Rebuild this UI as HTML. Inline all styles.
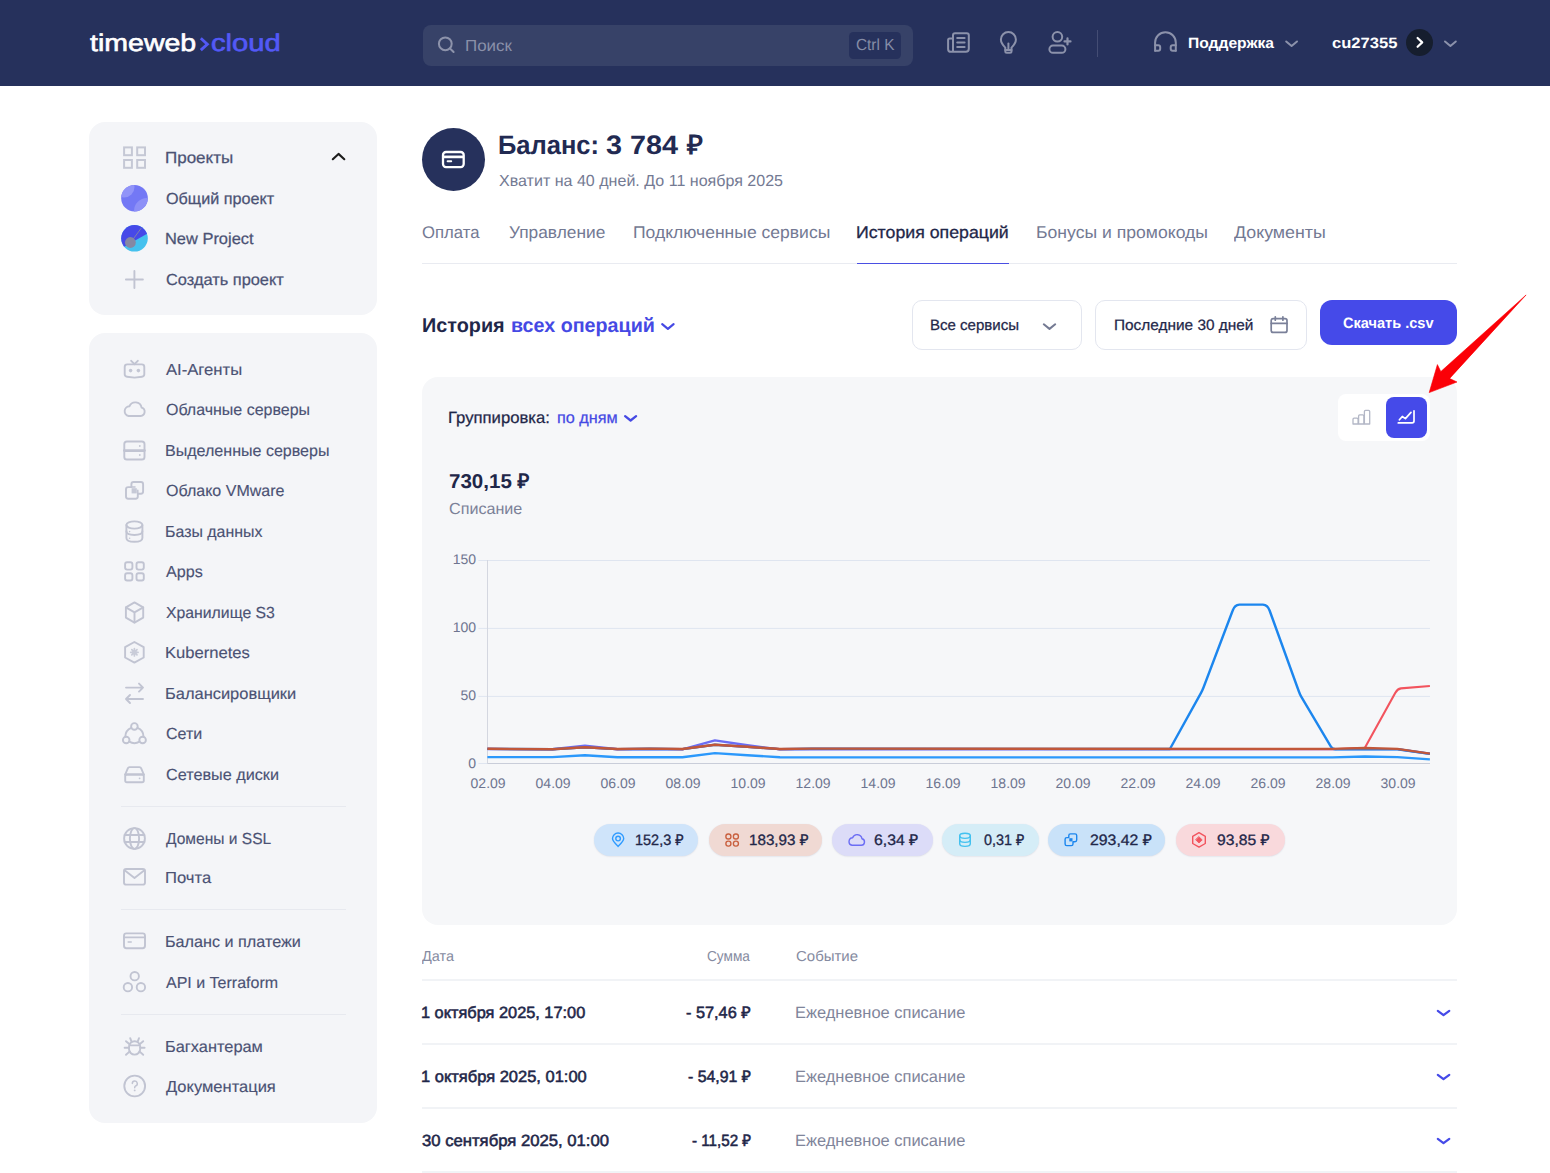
<!DOCTYPE html>
<html lang="ru"><head><meta charset="utf-8"><title>Timeweb Cloud</title>
<style>
*{box-sizing:border-box;margin:0;padding:0}
html,body{width:1550px;height:1173px;overflow:hidden;background:#fff;font-family:"Liberation Sans",sans-serif;}
body{position:relative}
.t{position:absolute;white-space:nowrap;line-height:1;font-family:"Liberation Sans",sans-serif;text-rendering:geometricPrecision;}
.a{position:absolute}
svg{position:absolute;overflow:visible}
.hdr{left:0;top:0;width:1550px;height:85.8px;background:#26315c}
.search{left:423px;top:24.7px;width:490px;height:41.5px;border-radius:8px;background:#374268}
.kbd{left:849px;top:31.8px;width:52px;height:27px;border-radius:4.5px;background:#26315c}
.vdiv{left:1097px;top:29.5px;width:1px;height:27px;background:#444d74}
.ucirc{left:1406px;top:29px;width:27px;height:27px;border-radius:50%;background:#161e2e}
.card{background:#f4f5f8;border-radius:16px}
.bal{left:422px;top:128px;width:63.2px;height:63.2px;border-radius:50%;background:#26315c}
.hl{height:1px;background:#e9ebf1}
.sel{border:1px solid #e3e6ef;border-radius:10px;background:#fff;height:50px;top:300px}
.btn{left:1320px;top:300px;width:137px;height:45px;border-radius:12px;background:#454ae9}
.chart{left:422px;top:377px;width:1035px;height:548px;background:#f6f7f9;border-radius:16px}
.tog{left:1338px;top:394px;width:92px;height:47px;border-radius:8px;background:#fff}
.togA{left:1386px;top:397px;width:41px;height:41px;border-radius:8px;background:#454ae9}
.chip{top:823.5px;height:32.5px;border-radius:17px;box-shadow:0 0.5px 1.5px rgba(40,50,90,0.13)}
.sd{left:121px;width:225px;height:1px;background:#e7e9ef}

</style></head>
<body>
<!-- header -->
<div class="a hdr"></div>
<div class="a search"></div>
<div class="a kbd"></div>
<div class="a vdiv"></div>
<div class="a ucirc"></div>
<!-- sidebar cards -->
<div class="a card" style="left:89px;top:122px;width:288px;height:192.5px"></div>
<div class="a card" style="left:89px;top:333px;width:288px;height:789.5px"></div>
<div class="a sd" style="top:806px"></div>
<div class="a sd" style="top:908.5px"></div>
<div class="a sd" style="top:1013.5px"></div>
<!-- balance -->
<div class="a bal"></div>
<div class="a hl" style="left:422px;top:263px;width:1035px"></div>
<div class="a" style="left:857px;top:262.5px;width:151.5px;height:1.5px;background:#4a4fe3"></div>
<!-- filters -->
<div class="a sel" style="left:912px;width:170px"></div>
<div class="a sel" style="left:1095px;width:212px"></div>
<div class="a btn"></div>
<!-- chart card -->
<div class="a chart"></div>
<div class="a tog"></div>
<div class="a togA"></div>
<!-- chips -->
<div class="a chip" style="left:594.3px;width:104.2px;background:#cfe4fa"></div>
<div class="a chip" style="left:708.8px;width:113.5px;background:#f0d9d3"></div>
<div class="a chip" style="left:832.3px;width:100.3px;background:#dcdcf8"></div>
<div class="a chip" style="left:942.4px;width:96.4px;background:#d5edf7"></div>
<div class="a chip" style="left:1048.4px;width:117px;background:#c9e2f9"></div>
<div class="a chip" style="left:1175.5px;width:109px;background:#f9d9dc"></div>
<!-- table lines -->
<div class="a hl" style="left:422px;top:978.9px;width:1035px;height:2px;background:#f1f3f6"></div>
<div class="a hl" style="left:422px;top:1042.9px;width:1035px;height:2px;background:#f1f3f6"></div>
<div class="a hl" style="left:422px;top:1106.9px;width:1035px;height:2px;background:#f1f3f6"></div>
<div class="a hl" style="left:422px;top:1170.9px;width:1035px;height:2px;background:#f1f3f6"></div>
<!-- CHART START -->
<svg width="1550" height="1173" viewBox="0 0 1550 1173" style="left:0;top:0" fill="none" stroke-linejoin="round" stroke-linecap="butt">
<path d="M478.4,560.5 H1430" stroke="#dfe5f0" stroke-width="1"/>
<path d="M478.4,628.4 H1430" stroke="#dfe5f0" stroke-width="1"/>
<path d="M478.4,696.4 H1430" stroke="#dfe5f0" stroke-width="1"/>
<path d="M478.4,763.5 H487.4" stroke="#dfe5f0" stroke-width="1"/>
<path d="M487.5,560 V763.5" stroke="#d4d7e0" stroke-width="1"/>
<path d="M487.4,763.5 H1430" stroke="#c9cdd9" stroke-width="1.2"/>
<path d="M487.4,757.1 L552.4,757.1 L584.9,755.3 L617.4,757.2 L682.4,757.2 L714.9,753.1 L747.4,755.2 L779.9,757.3 L1332.4,757.4 L1364.9,756.5 L1397.4,757.1 L1429.9,759.4" stroke="#2b98fb" stroke-width="2.4"/>
<path d="M487.4,749.0 L552.4,749.3 L584.9,745.7 L617.4,749.3 L682.4,749.3 L714.9,740.4 L747.4,745.2 L779.9,749.4 L1397.4,749.1 L1429.9,753.8" stroke="#6b6df4" stroke-width="2.4"/>
<path d="M487.4,748.9 L552.4,749.3 L584.9,747.4 L617.4,749.1 L649.9,748.7 L682.4,749.1 L714.9,744.8 L747.4,746.9 L779.9,749.1 L812.4,748.7 L1332.4,749.3 L1364.9,747.8 L1395.2,693.0 Q1397.4,689.0 1400.9,688.4 L1429.9,686.0" stroke="#f2545e" stroke-width="2.1"/>
<path d="M487.4,748.9 L552.4,749.3 L584.9,747.4 L617.4,749.1 L649.9,748.7 L682.4,749.1 L714.9,744.8 L747.4,746.9 L779.9,749.1 L812.4,748.7 L1169.9,749.0 L1200.9,693.2 Q1202.4,690.4 1203.6,687.3 L1232.7,610.5 Q1234.6,604.9 1239.4,604.6 L1262.9,604.6 Q1267.7,604.9 1269.6,610.5 L1298.7,691.0 Q1299.9,694.4 1301.5,697.2 L1330.9,746.6 Q1332.4,749.0 1335.4,749.3 L1397.4,749.2 L1429.9,753.9" stroke="#1c86ee" stroke-width="2.4"/>
<path d="M487.4,748.8 L552.4,749.2 L584.9,747.3 L617.4,749.0 L649.9,748.6 L682.4,749.0 L714.9,744.7 L747.4,746.8 L779.9,749.0 L812.4,748.6 L1332.4,748.9 L1364.9,748.0 L1397.4,748.9 L1429.9,753.6" stroke="#c1573a" stroke-width="2.4"/>
</svg>
<!-- CHART END -->
<!-- SIDEICONS START -->
<svg width="400" height="1173" viewBox="0 0 400 1173" style="left:0;top:0" fill="none" stroke="#c1c4d2" stroke-width="1.9" stroke-linecap="round" stroke-linejoin="round">
<!-- projects grid -->
<g stroke-width="2" stroke-linejoin="miter" stroke="#c5c8d5">
<rect x="124.1" y="147.4" width="7.8" height="7.8"/><rect x="137.2" y="147.4" width="7.8" height="7.8"/>
<rect x="124.1" y="160.0" width="7.8" height="7.8"/><rect x="137.2" y="160.0" width="7.8" height="7.8"/>
</g>
<path d="M332.8,159.2 L338.5,153.9 L344.3,159.2" stroke="#1c1c1c" stroke-width="2.1"/>
<!-- avatar 1 -->
<clipPath id="av1"><circle cx="134.5" cy="198.2" r="13.3"/></clipPath>
<g clip-path="url(#av1)" stroke="none">
<rect x="120" y="184" width="30" height="30" fill="#7378f5"/>
<circle cx="124" cy="187" r="10.5" fill="#9194f8"/>
<circle cx="147" cy="211" r="13" fill="#8d90f7"/>
</g>
<!-- avatar 2 -->
<clipPath id="av2"><circle cx="134.5" cy="238.3" r="13.3"/></clipPath>
<g clip-path="url(#av2)" stroke="none">
<rect x="120" y="224" width="30" height="30" fill="#45c1ee"/>
<path d="M120,224 H150 V232 L120,249 Z" fill="#4649e8"/>
<path d="M131,242 L141,228.5" stroke="#8588a3" stroke-width="0.9"/>
<circle cx="130.4" cy="242.5" r="5.4" fill="#8588a3"/>
</g>
<!-- plus -->
<path d="M125.9,279.5 H142.9 M134.4,271 V288" stroke-width="1.9"/>
<!-- AI agents -->
<path d="M127.2,364.4 H141.8 Q144.3,364.4 144.3,366.9 V374.3 Q144.3,376.5 142,376.7 L134.5,377.6 L127,376.7 Q124.7,376.5 124.7,374.3 V366.9 Q124.7,364.4 127.2,364.4 Z"/>
<path d="M131.2,360.8 L134.5,364.2 L137.8,360.8"/>
<circle cx="130.6" cy="370.6" r="1.8" fill="#c3c6d4" stroke="none"/><circle cx="138.4" cy="370.6" r="1.8" fill="#c3c6d4" stroke="none"/>
<!-- cloud -->
<path d="M128.6,416 H140.6 A4.3,4.3 0 0 0 141.6,407.6 A6.4,6.4 0 0 0 129.4,406.3 A4.9,4.9 0 0 0 128.6,416 Z"/>
<!-- server -->
<rect x="124.3" y="441.5" width="20.2" height="18" rx="2.6"/>
<path d="M124.3,450.6 H144.5" stroke-width="2.6"/>
<circle cx="139.8" cy="446" r="0.9" fill="#c3c6d4" stroke="none"/><circle cx="139.8" cy="455" r="0.9" fill="#c3c6d4" stroke="none"/>
<!-- vmware -->
<path d="M131.4,487.1 V484.2 Q131.4,482 133.6,482 H140.9 Q143.1,482 143.1,484.2 V491.5 Q143.1,493.7 140.9,493.7 H137.8 V496.6 Q137.8,498.8 135.6,498.8 H128.2 Q126,498.8 126,496.6 V489.3 Q126,487.1 128.2,487.1 Z"/>
<path d="M131.4,487.1 H135 M137.8,493.7 V490.2" stroke-width="1.5"/>
<rect x="131.6" y="488.2" width="5.2" height="5.2" fill="#c6c9d6" stroke="none"/>
<!-- database -->
<ellipse cx="134.4" cy="525" rx="8" ry="3.6"/>
<path d="M126.4,525 V538 C126.4,543.1 142.4,543.1 142.4,538 V525"/>
<path d="M126.4,531.3 C126.4,536.2 142.4,536.2 142.4,531.3"/>
<circle cx="129.6" cy="531.6" r="0.8" fill="#c3c6d4" stroke="none"/><circle cx="129.6" cy="538.2" r="0.8" fill="#c3c6d4" stroke="none"/>
<!-- apps -->
<rect x="125.1" y="562.3" width="7.3" height="7.3" rx="2"/><rect x="136.5" y="562.3" width="7.3" height="7.3" rx="2"/>
<rect x="125.1" y="573.2" width="7.3" height="7.3" rx="2"/><rect x="136.5" y="573.2" width="7.3" height="7.3" rx="2"/>
<!-- cube -->
<path d="M134.5,602.4 L143.2,607.4 V617.6 L134.5,622.6 L125.9,617.6 V607.4 Z"/>
<path d="M125.9,607.4 L134.5,612.4 L143.2,607.4 M134.5,612.4 V622.6"/>
<!-- kubernetes -->
<path d="M134.4,642 L143.7,647.2 V657.5 L134.4,662.6 L125.1,657.5 V647.2 Z"/>
<g stroke="#c9ccd8" stroke-width="1.7"><path d="M134.4,648.6 V656 M130.7,652.3 H138.1 M131.8,649.7 L137,654.9 M137,649.7 L131.8,654.9"/></g>
<circle cx="134.4" cy="652.3" r="2.2" fill="#c9ccd8" stroke="none"/>
<!-- balancers -->
<path d="M126,687.6 H143 M139,683.6 L143,687.6 L139,691.6"/>
<path d="M143,699 H126 M130,695 L126,699 L130,703"/>
<!-- networks -->
<circle cx="134.4" cy="726.4" r="3.3"/><circle cx="126.2" cy="740" r="3.3"/><circle cx="142.6" cy="740" r="3.3"/>
<path d="M131.3,727.9 A9.6,9.6 0 0 0 125.3,736.6"/>
<path d="M137.5,727.9 A9.6,9.6 0 0 1 143.5,736.6"/>
<path d="M129.3,741.6 A9.6,9.6 0 0 0 139.5,741.6"/>
<!-- disk -->
<path d="M125.2,774.5 L127.8,768.3 Q128.3,767.1 129.6,767.1 H139.4 Q140.7,767.1 141.2,768.3 L143.8,774.5"/>
<rect x="125.2" y="774.5" width="18.6" height="7.8" rx="1.8"/>
<path d="M125.2,774.5 H143.8"/>
<circle cx="139.6" cy="778.3" r="0.9" fill="#c3c6d4" stroke="none"/>
<!-- globe -->
<circle cx="134.5" cy="838.5" r="10.4"/>
<ellipse cx="134.5" cy="838.5" rx="4.6" ry="10.4"/>
<path d="M124.6,835 H144.4 M124.6,842 H144.4"/>
<!-- mail -->
<rect x="124" y="869" width="21" height="15.6" rx="2.2"/>
<path d="M124.6,870.3 L134.5,878 L144.4,870.3"/>
<!-- card -->
<rect x="124" y="933.4" width="21" height="14.8" rx="2.4"/>
<path d="M124,937.4 H145" stroke-width="1.8"/>
<path d="M128.2,942 H131.2" stroke-width="1.6"/>
<!-- api -->
<circle cx="134.7" cy="976.2" r="4.2"/><circle cx="127.9" cy="987.2" r="4.2"/><circle cx="140.9" cy="987.2" r="4.2"/>
<!-- bug -->
<path d="M129,1046.8 A5.6,5.6 0 0 1 140.2,1046.8 V1049 A5.6,5.6 0 0 1 129,1049 Z"/>
<path d="M129.6,1045.4 H139.6"/>
<path d="M131.6,1041.8 L130.2,1038.2 M137.6,1041.8 L139,1038.2"/>
<path d="M129,1047.8 H124.6 M140.2,1047.8 H144.6"/>
<path d="M129.6,1044.2 L126,1041.2 M139.6,1044.2 L143.2,1041.2"/>
<path d="M129.8,1051.4 L126,1054.8 M139.4,1051.4 L143.2,1054.8"/>
<!-- help -->
<circle cx="134.7" cy="1086" r="10.4"/>
<path d="M132.3,1083.4 A2.5,2.5 0 1 1 135.6,1085.9 Q134.7,1086.4 134.7,1087.8" stroke-width="1.5"/>
<circle cx="134.7" cy="1090.4" r="0.95" fill="#c3c6d4" stroke="none"/>
</svg>
<!-- SIDEICONS END -->
<!-- MAINICONS START -->
<svg width="1550" height="1173" viewBox="0 0 1550 1173" style="left:0;top:0" fill="none" stroke-linecap="round" stroke-linejoin="round">
<!-- ===== header ===== -->
<g stroke="#8c92ab" stroke-width="2">
<!-- logo chevron -->
<path d="M200.8,38.3 L207.3,44.2 L200.8,50.1" stroke="#5258f5" stroke-width="2.9" stroke-linecap="butt" stroke-linejoin="miter"/>
<!-- search -->
<circle cx="445.3" cy="43.8" r="6.4" stroke="#8d93ab" stroke-width="2"/>
<path d="M450,48.5 L453.6,52" stroke="#8d93ab" stroke-width="2"/>
<!-- newspaper -->
<path d="M953,51.8 V35.2 Q953,33.2 955,33.2 H966.8 Q968.8,33.2 968.8,35.2 V48.8 Q968.8,51.8 965.8,51.8 H951 Q948.1,51.8 948.1,48.9 V40 Q948.1,38.4 949.7,38.4 H953"/>
<path d="M957.2,37.9 H964.6 M957.2,42.4 H964.6 M957.2,46.9 H964.6"/>
<!-- bulb -->
<path d="M1005.3,50 V47.6 C1003.6,45.9 1000.9,43.4 1000.9,39.6 A7.5,7.5 0 0 1 1015.9,39.6 C1015.9,43.4 1013.2,45.9 1011.5,47.6 V50 Z"/>
<path d="M1005.3,50 V51.3 Q1005.3,52.8 1006.8,52.8 H1010 Q1011.5,52.8 1011.5,51.3 V50"/>
<path d="M1008.4,43.4 V50"/>
<!-- user plus -->
<circle cx="1057.4" cy="36.8" r="4.8"/>
<rect x="1049.4" y="45.6" width="16" height="7.2" rx="3.6"/>
<path d="M1067.5,38.4 V44.4 M1064.5,41.4 H1070.5" stroke-width="2.2"/>
<!-- headphones -->
<path d="M1155.1,50.7 V42.6 A10.35,10.35 0 0 1 1175.8,42.6 V50.7"/>
<path d="M1155.1,45.2 H1158.2 Q1160.2,45.2 1160.2,47.2 V48.7 Q1160.2,50.7 1158.2,50.7 H1155.1"/>
<path d="M1175.8,45.2 H1172.7 Q1170.7,45.2 1170.7,47.2 V48.7 Q1170.7,50.7 1172.7,50.7 H1175.8"/>
<!-- chevrons -->
<path d="M1286.2,41.5 L1291.6,46 L1297,41.5"/>
<path d="M1445,41.5 L1450.4,46 L1455.8,41.5"/>
</g>
<path d="M1417.6,38 L1422.2,42.4 L1417.6,46.8" stroke="#fff" stroke-width="2.2"/>
<!-- ===== balance card icon ===== -->
<rect x="443" y="152" width="20.7" height="15.1" rx="3" stroke="#fff" stroke-width="2.3"/>
<path d="M443,156.9 H463.7" stroke="#fff" stroke-width="2.7" stroke-linecap="butt"/>
<path d="M447.6,161.2 H451.2" stroke="#fff" stroke-width="2"/>
<!-- ===== filter row ===== -->
<path d="M662.2,324.2 L667.9,328.8 L673.6,324.2" stroke="#4549e4" stroke-width="2.2"/>
<path d="M1043.8,324.3 L1049.5,328.9 L1055.2,324.3" stroke="#747a93" stroke-width="2"/>
<g stroke="#7a8099" stroke-width="1.7">
<rect x="1271.2" y="318.6" width="15.8" height="13.8" rx="2"/>
<path d="M1271.2,323.4 H1287 M1275.3,316.8 V320.2 M1282.9,316.8 V320.2"/>
</g>
<!-- ===== chart card ===== -->
<path d="M625.1,416.2 L630.6,420.5 L636.1,416.2" stroke="#4549e4" stroke-width="2.3"/>
<g stroke="#b3b7c6" stroke-width="1.3" stroke-linejoin="round">
<path d="M1353,424 V419.3 Q1353,418.2 1354.1,418.2 H1357 Q1358.1,418.2 1358.1,419.3 V424 Z"/>
<path d="M1358.6,424 V416 Q1358.6,414.9 1359.7,414.9 H1362.8 Q1363.9,414.9 1363.9,416 V424 Z"/>
<path d="M1364.4,424 V411.4 Q1364.4,410.3 1365.5,410.3 H1368.6 Q1369.7,410.3 1369.7,411.4 V424 Z"/>
</g>
<g stroke="#fff" stroke-width="1.7">
<path d="M1414,410.8 V421 Q1414,422.9 1412.1,422.9 H1398.3"/>
<path d="M1399.4,419.8 L1402.3,416.5 L1405.4,418.6 L1411,412.4"/>
</g>
<!-- red arrow -->
<path d="M1525.8,295.2 L1440.8,371.6 L1437.4,364.6 L1429.2,392.6 L1457,382 L1449.8,378.6 Z" fill="#fb0007" stroke="#fb0007" stroke-width="0.6" stroke-linejoin="miter"/>
<!-- ===== chips icons ===== -->
<!-- pin -->
<g stroke="#2f9bff" stroke-width="1.4">
<path d="M618.1,846.4 C615.2,843.6 612.5,841.2 612.5,838.6 A5.6,5.6 0 0 1 623.7,838.6 C623.7,841.2 621,843.6 618.1,846.4 Z"/>
<circle cx="618.1" cy="838.6" r="2.3"/>
</g>
<!-- apps -->
<g stroke="#c9603f" stroke-width="1.4">
<rect x="725.9" y="834" width="5" height="5" rx="2.3"/><rect x="733.4" y="834" width="5" height="5" rx="2.3"/>
<rect x="725.9" y="841.1" width="5" height="5" rx="2.3"/><rect x="733.4" y="841.1" width="5" height="5" rx="2.3"/>
</g>
<!-- cloud -->
<path d="M852,845.3 H861.2 A3.3,3.3 0 0 0 862,838.8 A4.9,4.9 0 0 0 852.6,837.8 A3.8,3.8 0 0 0 852,845.3 Z" stroke="#6b6df4" stroke-width="1.4"/>
<!-- db -->
<g stroke="#43c1ef" stroke-width="1.4">
<ellipse cx="965" cy="835.8" rx="5.3" ry="2.6"/>
<path d="M959.7,835.8 V843.8 C959.7,847.2 970.3,847.2 970.3,843.8 V835.8"/>
<path d="M959.7,839.8 C959.7,843.2 970.3,843.2 970.3,839.8"/>
</g>
<!-- vmware -->
<g stroke="#1c86ee" stroke-width="1.4">
<path d="M1068.8,837.6 V835.6 Q1068.8,833.9 1070.5,833.9 H1075 Q1076.7,833.9 1076.7,835.6 V840.1 Q1076.7,841.8 1075,841.8 H1073 V843.9 Q1073,845.6 1071.3,845.6 H1066.8 Q1065.1,845.6 1065.1,843.9 V839.3 Q1065.1,837.6 1066.8,837.6 Z"/>
<rect x="1069.3" y="838.2" width="3.2" height="3.2" fill="#1c86ee" stroke="none"/>
</g>
<!-- k8s -->
<g stroke="#f2545e" stroke-width="1.4">
<path d="M1199,832.7 L1205.3,836.3 V843.5 L1199,847.1 L1192.7,843.5 V836.3 Z"/>
<path d="M1199,836.8 L1202.2,839.9 L1199,843 L1195.8,839.9 Z" fill="#f2545e" stroke-width="0.8"/>
</g>
<!-- ===== table chevrons ===== -->
<g stroke="#454ae8" stroke-width="2.2">
<path d="M1437.8,1010.8 L1443.5,1015.2 L1449.3,1010.8"/>
<path d="M1437.8,1074.8 L1443.5,1079.2 L1449.3,1074.8"/>
<path d="M1437.8,1138.8 L1443.5,1143.2 L1449.3,1138.8"/>
</g>
</svg>
<!-- MAINICONS END -->

<!-- texts -->
<span class="t" style="left:89.90px;top:32px;font-size:24px;font-weight:400;color:#ffffff;-webkit-text-stroke:0.6px #ffffff;transform-origin:0 0;transform:scaleX(1.1885);">timeweb</span>
<span class="t" style="left:211.48px;top:32px;font-size:24px;font-weight:400;color:#5359f6;-webkit-text-stroke:0.6px #5359f6;transform-origin:0 0;transform:scaleX(1.2158);">cloud</span>
<span class="t" style="left:465.44px;top:39px;font-size:16px;font-weight:400;color:#8a90a9;transform-origin:0 0;transform:scaleX(1.0578);">Поиск</span>
<span class="t" style="left:856.30px;top:38px;font-size:16px;font-weight:400;color:#858ca6;transform-origin:0 0;transform:scaleX(0.9596);">Ctrl K</span>
<span class="t" style="left:1187.86px;top:36px;font-size:15px;font-weight:700;color:#ffffff;transform-origin:0 0;transform:scaleX(1.0409);">Поддержка</span>
<span class="t" style="left:1332.00px;top:36px;font-size:15px;font-weight:700;color:#ffffff;transform-origin:0 0;transform:scaleX(1.1041);">cu27355</span>
<span class="t" style="left:498.34px;top:132px;font-size:26.7px;font-weight:700;color:#222a52;transform-origin:0 0;transform:scaleX(0.9564);">Баланс:</span>
<span class="t" style="left:605.70px;top:132px;font-size:26.7px;font-weight:700;color:#222a52;transform-origin:0 0;transform:scaleX(1.0786);">3 784</span>
<span class="t" style="left:686.63px;top:132px;font-size:26.7px;font-weight:700;color:#222a52;transform-origin:0 0;transform:scaleX(1.0312);">₽</span>
<span class="t" style="left:499.30px;top:174px;font-size:16px;font-weight:400;color:#747a93;transform-origin:0 0;transform:scaleX(1.0025);">Хватит на 40 дней. До 11 ноября 2025</span>
<span class="t" style="left:422.40px;top:224px;font-size:17px;font-weight:400;color:#737993;transform-origin:0 0;transform:scaleX(0.9826);">Оплата</span>
<span class="t" style="left:509.30px;top:224px;font-size:17px;font-weight:400;color:#737993;transform-origin:0 0;transform:scaleX(1.0186);">Управление</span>
<span class="t" style="left:632.67px;top:224px;font-size:17px;font-weight:400;color:#737993;transform-origin:0 0;transform:scaleX(1.0312);">Подключенные сервисы</span>
<span class="t" style="left:856.26px;top:224px;font-size:17px;font-weight:400;color:#1f2749;-webkit-text-stroke:0.3px #1f2749;transform-origin:0 0;transform:scaleX(1.0434);">История операций</span>
<span class="t" style="left:1035.56px;top:224px;font-size:17px;font-weight:400;color:#737993;transform-origin:0 0;transform:scaleX(1.0355);">Бонусы и промокоды</span>
<span class="t" style="left:1234.40px;top:224px;font-size:17px;font-weight:400;color:#737993;transform-origin:0 0;transform:scaleX(1.0479);">Документы</span>
<span class="t" style="left:421.81px;top:316px;font-size:20px;font-weight:700;color:#1f2749;transform-origin:0 0;transform:scaleX(0.9907);">История</span>
<span class="t" style="left:510.72px;top:316px;font-size:20px;font-weight:700;color:#4549e4;transform-origin:0 0;transform:scaleX(0.9846);">всех операций</span>
<span class="t" style="left:930.20px;top:318px;font-size:15px;font-weight:400;color:#1f2749;-webkit-text-stroke:0.25px #1f2749;transform-origin:0 0;transform:scaleX(1.0029);">Все сервисы</span>
<span class="t" style="left:1113.57px;top:318px;font-size:15px;font-weight:400;color:#1f2749;-webkit-text-stroke:0.25px #1f2749;transform-origin:0 0;transform:scaleX(1.0257);">Последние 30 дней</span>
<span class="t" style="left:1343.30px;top:316px;font-size:15px;font-weight:700;color:#ffffff;transform-origin:0 0;transform:scaleX(0.9708);">Скачать .csv</span>
<span class="t" style="left:448.18px;top:410px;font-size:16.3px;font-weight:400;color:#1f2749;-webkit-text-stroke:0.25px #1f2749;transform-origin:0 0;transform:scaleX(1.0241);">Группировка:</span>
<span class="t" style="left:556.60px;top:410px;font-size:16.3px;font-weight:400;color:#4549e4;-webkit-text-stroke:0.25px #4549e4;transform-origin:0 0;transform:scaleX(0.9983);">по дням</span>
<span class="t" style="left:449.20px;top:472px;font-size:20px;font-weight:700;color:#1f2749;transform-origin:0 0;transform:scaleX(1.0276);">730,15 ₽</span>
<span class="t" style="left:449.20px;top:502px;font-size:16px;font-weight:400;color:#7b8198;transform-origin:0 0;transform:scaleX(1.0079);">Списание</span>
<span class="t" style="left:635.03px;top:833px;font-size:15px;font-weight:400;color:#1f2749;-webkit-text-stroke:0.32px #1f2749;transform-origin:0 0;transform:scaleX(0.9657);">152,3 ₽</span>
<span class="t" style="left:748.79px;top:833px;font-size:15px;font-weight:400;color:#1f2749;-webkit-text-stroke:0.32px #1f2749;transform-origin:0 0;transform:scaleX(1.0130);">183,93 ₽</span>
<span class="t" style="left:874.10px;top:833px;font-size:15px;font-weight:400;color:#1f2749;-webkit-text-stroke:0.32px #1f2749;transform-origin:0 0;transform:scaleX(1.0528);">6,34 ₽</span>
<span class="t" style="left:983.80px;top:833px;font-size:15px;font-weight:400;color:#1f2749;-webkit-text-stroke:0.32px #1f2749;transform-origin:0 0;transform:scaleX(0.9584);">0,31 ₽</span>
<span class="t" style="left:1089.90px;top:833px;font-size:15px;font-weight:400;color:#1f2749;-webkit-text-stroke:0.32px #1f2749;transform-origin:0 0;transform:scaleX(1.0551);">293,42 ₽</span>
<span class="t" style="left:1217.20px;top:833px;font-size:15px;font-weight:400;color:#1f2749;-webkit-text-stroke:0.32px #1f2749;transform-origin:0 0;transform:scaleX(1.0433);">93,85 ₽</span>
<span class="t" style="left:422.10px;top:950px;font-size:14.5px;font-weight:400;color:#868ba1;transform-origin:0 0;transform:scaleX(0.9956);">Дата</span>
<span class="t" style="left:706.80px;top:950px;font-size:14.5px;font-weight:400;color:#868ba1;transform-origin:0 0;transform:scaleX(0.9420);">Сумма</span>
<span class="t" style="left:795.80px;top:950px;font-size:14.5px;font-weight:400;color:#868ba1;transform-origin:0 0;transform:scaleX(1.0333);">Событие</span>
<span class="t" style="left:421.09px;top:1005px;font-size:16.2px;font-weight:400;color:#1f2749;-webkit-text-stroke:0.55px #1f2749;transform-origin:0 0;transform:scaleX(1.0086);">1 октября 2025, 17:00</span>
<span class="t" style="left:686.10px;top:1005px;font-size:16.2px;font-weight:400;color:#1f2749;-webkit-text-stroke:0.55px #1f2749;transform-origin:0 0;transform:scaleX(1.0064);">- 57,46 ₽</span>
<span class="t" style="left:795.20px;top:1005px;font-size:16.5px;font-weight:400;color:#7f859b;transform-origin:0 0;transform:scaleX(0.9968);">Ежедневное списание</span>
<span class="t" style="left:421.08px;top:1069px;font-size:16.2px;font-weight:400;color:#1f2749;-webkit-text-stroke:0.55px #1f2749;transform-origin:0 0;transform:scaleX(1.0178);">1 октября 2025, 01:00</span>
<span class="t" style="left:687.90px;top:1069px;font-size:16.2px;font-weight:400;color:#1f2749;-webkit-text-stroke:0.55px #1f2749;transform-origin:0 0;transform:scaleX(0.9782);">- 54,91 ₽</span>
<span class="t" style="left:795.20px;top:1069px;font-size:16.5px;font-weight:400;color:#7f859b;transform-origin:0 0;transform:scaleX(0.9968);">Ежедневное списание</span>
<span class="t" style="left:422.10px;top:1133px;font-size:16.2px;font-weight:400;color:#1f2749;-webkit-text-stroke:0.55px #1f2749;transform-origin:0 0;transform:scaleX(1.0298);">30 сентября 2025, 01:00</span>
<span class="t" style="left:691.60px;top:1133px;font-size:16.2px;font-weight:400;color:#1f2749;-webkit-text-stroke:0.55px #1f2749;transform-origin:0 0;transform:scaleX(0.9379);">- 11,52 ₽</span>
<span class="t" style="left:795.20px;top:1133px;font-size:16.5px;font-weight:400;color:#7f859b;transform-origin:0 0;transform:scaleX(0.9968);">Ежедневное списание</span>
<span class="t" style="left:164.84px;top:151px;font-size:16px;font-weight:400;color:#4b5274;-webkit-text-stroke:0.25px #4b5274;transform-origin:0 0;transform:scaleX(1.0621);">Проекты</span>
<span class="t" style="left:165.90px;top:192px;font-size:16px;font-weight:400;color:#4b5274;-webkit-text-stroke:0.25px #4b5274;transform-origin:0 0;transform:scaleX(1.0108);">Общий проект</span>
<span class="t" style="left:164.87px;top:232px;font-size:16px;font-weight:400;color:#4b5274;-webkit-text-stroke:0.25px #4b5274;transform-origin:0 0;transform:scaleX(1.0268);">New Project</span>
<span class="t" style="left:165.90px;top:273px;font-size:16px;font-weight:400;color:#4b5274;-webkit-text-stroke:0.25px #4b5274;transform-origin:0 0;transform:scaleX(1.0234);">Создать проект</span>
<span class="t" style="left:166.20px;top:363px;font-size:16px;font-weight:400;color:#4b5274;-webkit-text-stroke:0.15px #4b5274;transform-origin:0 0;transform:scaleX(1.0404);">AI-Агенты</span>
<span class="t" style="left:166.20px;top:403px;font-size:16px;font-weight:400;color:#4b5274;-webkit-text-stroke:0.15px #4b5274;transform-origin:0 0;transform:scaleX(0.9986);">Облачные серверы</span>
<span class="t" style="left:165.20px;top:444px;font-size:16px;font-weight:400;color:#4b5274;-webkit-text-stroke:0.15px #4b5274;transform-origin:0 0;transform:scaleX(1.0028);">Выделенные серверы</span>
<span class="t" style="left:166.20px;top:484px;font-size:16px;font-weight:400;color:#4b5274;-webkit-text-stroke:0.15px #4b5274;transform-origin:0 0;transform:scaleX(1.0014);">Облако VMware</span>
<span class="t" style="left:165.20px;top:525px;font-size:16px;font-weight:400;color:#4b5274;-webkit-text-stroke:0.15px #4b5274;transform-origin:0 0;transform:scaleX(0.9958);">Базы данных</span>
<span class="t" style="left:166.20px;top:565px;font-size:16px;font-weight:400;color:#4b5274;-webkit-text-stroke:0.15px #4b5274;transform-origin:0 0;transform:scaleX(1.0091);">Apps</span>
<span class="t" style="left:166.20px;top:606px;font-size:16px;font-weight:400;color:#4b5274;-webkit-text-stroke:0.15px #4b5274;transform-origin:0 0;transform:scaleX(0.9863);">Хранилище S3</span>
<span class="t" style="left:165.16px;top:646px;font-size:16px;font-weight:400;color:#4b5274;-webkit-text-stroke:0.15px #4b5274;transform-origin:0 0;transform:scaleX(1.0367);">Kubernetes</span>
<span class="t" style="left:165.17px;top:687px;font-size:16px;font-weight:400;color:#4b5274;-webkit-text-stroke:0.15px #4b5274;transform-origin:0 0;transform:scaleX(1.0270);">Балансировщики</span>
<span class="t" style="left:166.20px;top:727px;font-size:16px;font-weight:400;color:#4b5274;-webkit-text-stroke:0.15px #4b5274;transform-origin:0 0;transform:scaleX(1.0014);">Сети</span>
<span class="t" style="left:166.20px;top:768px;font-size:16px;font-weight:400;color:#4b5274;-webkit-text-stroke:0.15px #4b5274;transform-origin:0 0;transform:scaleX(1.0128);">Сетевые диски</span>
<span class="t" style="left:166.20px;top:832px;font-size:16px;font-weight:400;color:#4b5274;-webkit-text-stroke:0.15px #4b5274;transform-origin:0 0;transform:scaleX(0.9721);">Домены и SSL</span>
<span class="t" style="left:165.16px;top:871px;font-size:16px;font-weight:400;color:#4b5274;-webkit-text-stroke:0.15px #4b5274;transform-origin:0 0;transform:scaleX(1.0383);">Почта</span>
<span class="t" style="left:165.19px;top:935px;font-size:16px;font-weight:400;color:#4b5274;-webkit-text-stroke:0.15px #4b5274;transform-origin:0 0;transform:scaleX(1.0112);">Баланс и платежи</span>
<span class="t" style="left:166.20px;top:976px;font-size:16px;font-weight:400;color:#4b5274;-webkit-text-stroke:0.15px #4b5274;transform-origin:0 0;transform:scaleX(0.9996);">API и Terraform</span>
<span class="t" style="left:165.18px;top:1040px;font-size:16px;font-weight:400;color:#4b5274;-webkit-text-stroke:0.15px #4b5274;transform-origin:0 0;transform:scaleX(1.0231);">Багхантерам</span>
<span class="t" style="left:166.20px;top:1080px;font-size:16px;font-weight:400;color:#4b5274;-webkit-text-stroke:0.15px #4b5274;transform-origin:0 0;transform:scaleX(1.0312);">Документация</span>
<span class="t" style="left:476.00px;top:552px;font-size:14px;font-weight:400;color:#6e7590;transform:translateX(-100%);">150</span>
<span class="t" style="left:476.00px;top:620px;font-size:14px;font-weight:400;color:#6e7590;transform:translateX(-100%);">100</span>
<span class="t" style="left:476.00px;top:688px;font-size:14px;font-weight:400;color:#6e7590;transform:translateX(-100%);">50</span>
<span class="t" style="left:476.00px;top:756px;font-size:14px;font-weight:400;color:#6e7590;transform:translateX(-100%);">0</span>
<span class="t" style="left:488.10px;top:776px;font-size:14px;font-weight:400;color:#6e7590;transform:translateX(-50%);">02.09</span>
<span class="t" style="left:553.10px;top:776px;font-size:14px;font-weight:400;color:#6e7590;transform:translateX(-50%);">04.09</span>
<span class="t" style="left:618.10px;top:776px;font-size:14px;font-weight:400;color:#6e7590;transform:translateX(-50%);">06.09</span>
<span class="t" style="left:683.10px;top:776px;font-size:14px;font-weight:400;color:#6e7590;transform:translateX(-50%);">08.09</span>
<span class="t" style="left:748.10px;top:776px;font-size:14px;font-weight:400;color:#6e7590;transform:translateX(-50%);">10.09</span>
<span class="t" style="left:813.10px;top:776px;font-size:14px;font-weight:400;color:#6e7590;transform:translateX(-50%);">12.09</span>
<span class="t" style="left:878.10px;top:776px;font-size:14px;font-weight:400;color:#6e7590;transform:translateX(-50%);">14.09</span>
<span class="t" style="left:943.10px;top:776px;font-size:14px;font-weight:400;color:#6e7590;transform:translateX(-50%);">16.09</span>
<span class="t" style="left:1008.10px;top:776px;font-size:14px;font-weight:400;color:#6e7590;transform:translateX(-50%);">18.09</span>
<span class="t" style="left:1073.10px;top:776px;font-size:14px;font-weight:400;color:#6e7590;transform:translateX(-50%);">20.09</span>
<span class="t" style="left:1138.10px;top:776px;font-size:14px;font-weight:400;color:#6e7590;transform:translateX(-50%);">22.09</span>
<span class="t" style="left:1203.10px;top:776px;font-size:14px;font-weight:400;color:#6e7590;transform:translateX(-50%);">24.09</span>
<span class="t" style="left:1268.10px;top:776px;font-size:14px;font-weight:400;color:#6e7590;transform:translateX(-50%);">26.09</span>
<span class="t" style="left:1333.10px;top:776px;font-size:14px;font-weight:400;color:#6e7590;transform:translateX(-50%);">28.09</span>
<span class="t" style="left:1398.10px;top:776px;font-size:14px;font-weight:400;color:#6e7590;transform:translateX(-50%);">30.09</span>
</body></html>
